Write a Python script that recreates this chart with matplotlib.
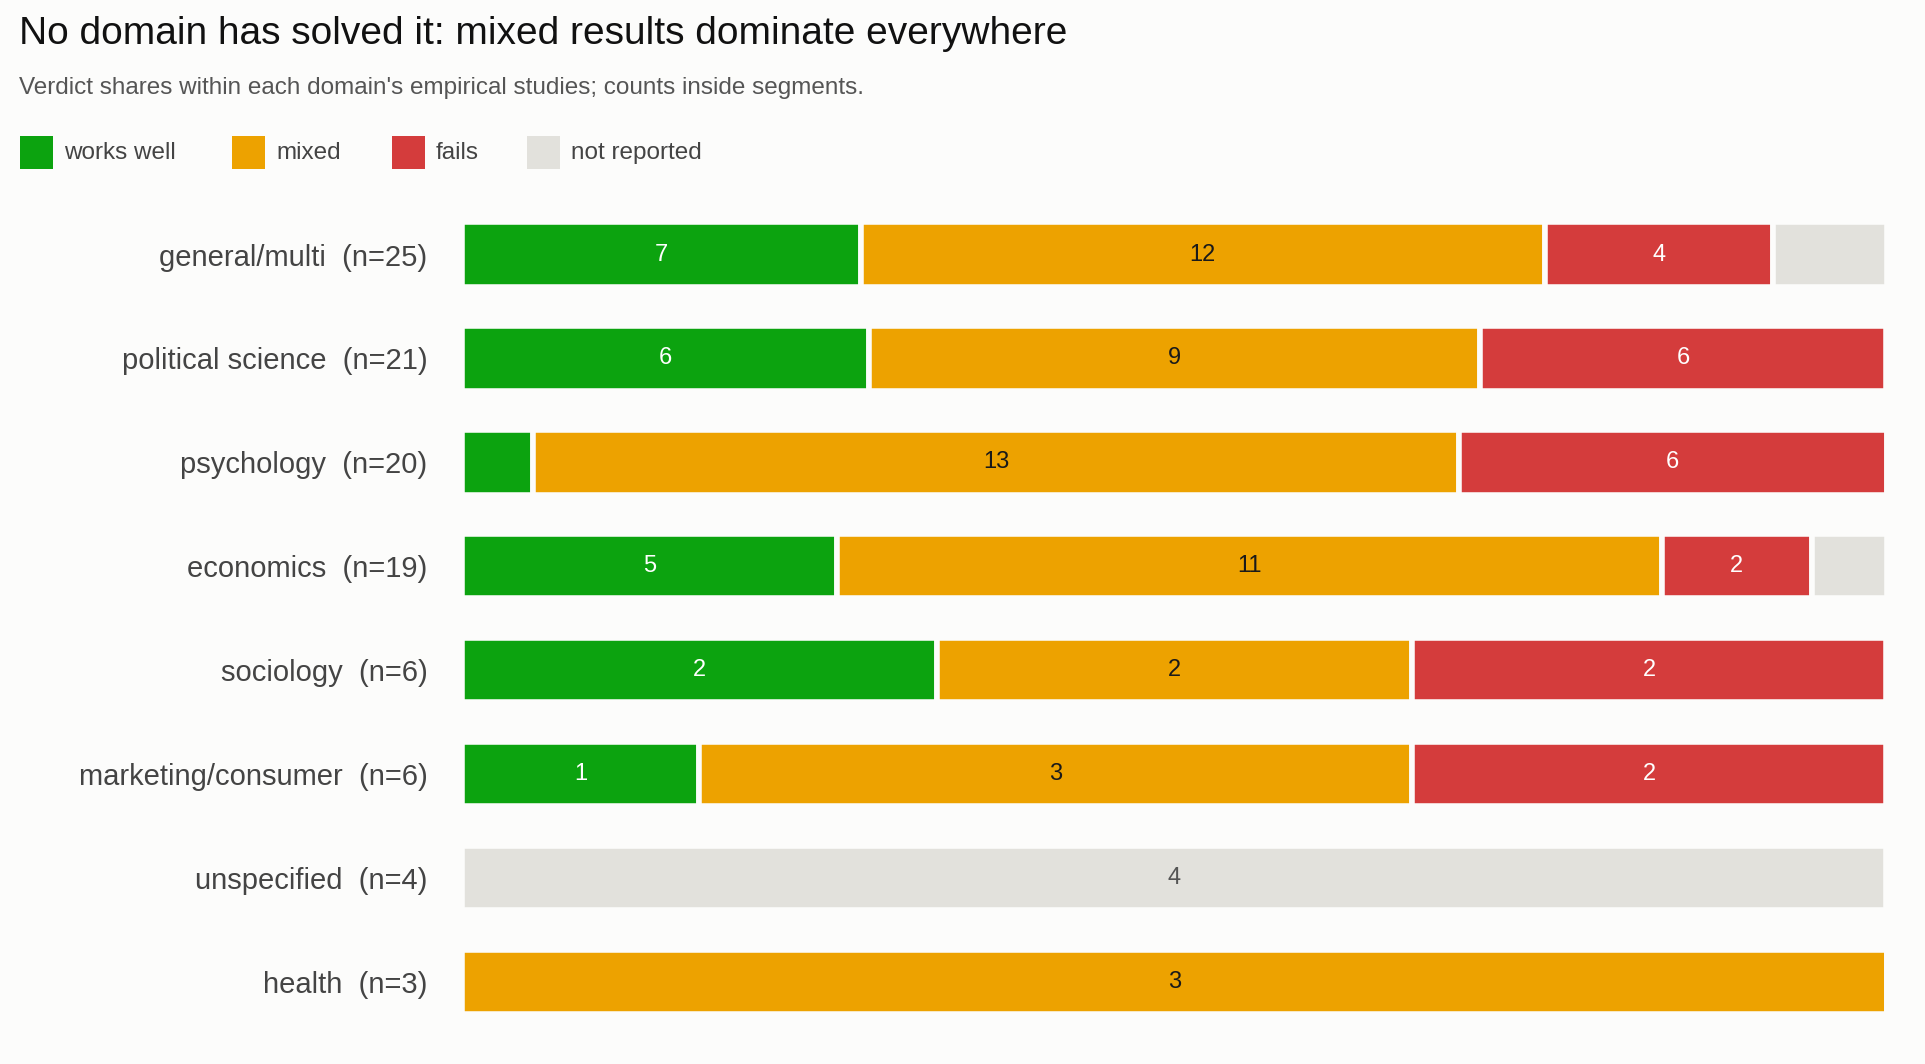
import matplotlib
matplotlib.use("Agg")
import matplotlib.pyplot as plt
from matplotlib.patches import Rectangle
import numpy as np

plt.rcParams['font.family'] = ['Liberation Sans', 'DejaVu Sans']

domains = ["general/multi", "political science", "psychology", "economics",
           "sociology", "marketing/consumer", "unspecified", "health"]
works_well = [7, 6, 1, 5, 2, 1, 0, 0]
mixed = [12, 9, 13, 11, 2, 3, 0, 3]
fails = [4, 6, 6, 2, 2, 2, 0, 0]
not_reported = [2, 0, 0, 1, 0, 0, 4, 0]

series_names = ["works well", "mixed", "fails", "not reported"]
colors = ["#0ca30f", "#eda200", "#d43c3c", "#e2e1dc"]
text_colors = ["white", "#1a1a1a", "white", "#555555"]
bg = "#fcfcfb"

data = np.array([works_well, mixed, fails, not_reported], dtype=float)
totals = data.sum(axis=0)
shares = data / totals

fig = plt.figure(figsize=(19.25, 10.64), dpi=100, facecolor=bg)
ax = fig.add_axes([0.24, 0.047, 0.74, 0.744], facecolor=bg)
y = np.arange(len(domains))
left = np.zeros(len(domains))
for k in range(4):
    ax.barh(y, shares[k], left=left, height=0.62, color=colors[k],
            edgecolor=bg, linewidth=4)
    for i in range(len(domains)):
        if shares[k, i] >= 0.1:
            ax.text(left[i] + shares[k, i] / 2, y[i], f"{int(data[k, i])}",
                    ha="center", va="center", fontsize=17, color=text_colors[k])
    left += shares[k]

ax.set_xlim(0, 1)
ax.set_ylim(len(domains) - 1 + 0.31, -0.31)
ax.set_yticks(y)
ax.set_yticklabels([f"{d}  (n={int(t)})" for d, t in zip(domains, totals)],
                   fontsize=21, color="#444444")
ax.tick_params(axis="y", length=0, pad=25)
ax.set_xticks([])
for s in ax.spines.values():
    s.set_visible(False)

fig.text(0.010, 0.985, "No domain has solved it: mixed results dominate everywhere",
         fontsize=28, color="#111111", va="top")
fig.text(0.010, 0.917, "Verdict shares within each domain's empirical studies; counts inside segments.",
         fontsize=17.5, color="#555555", va="center")

leg_x = [16, 189, 319, 429]
for k, name in enumerate(series_names):
    x0 = leg_x[k] / 1568
    fig.patches.append(Rectangle((x0, 0.841), 27 / 1568, 0.031, transform=fig.transFigure,
                                 facecolor=colors[k], edgecolor="none"))
    fig.text(x0 + 36 / 1568, 0.856, name, fontsize=17.5, color="#444444", va="center")

fig.savefig("out.png", dpi=100, facecolor=bg)
